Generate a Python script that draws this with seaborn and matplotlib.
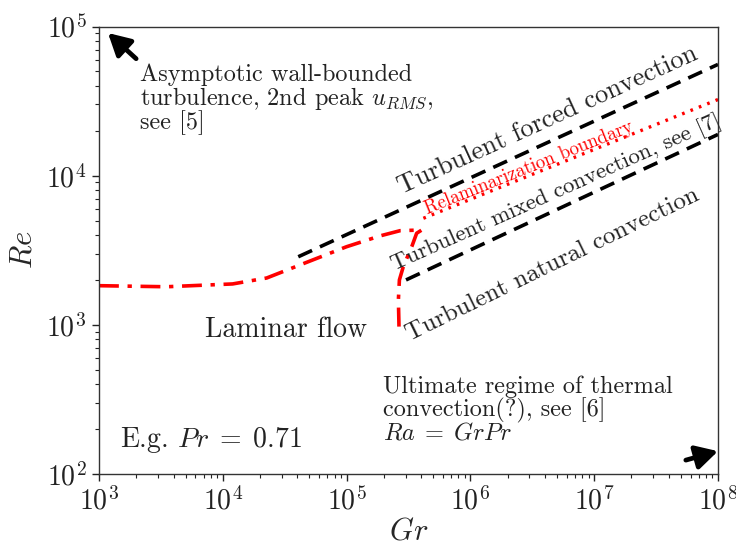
import matplotlib
matplotlib.use("Agg")
import matplotlib.pyplot as plt
import seaborn as sns
import pandas as pd

sns.set_theme(style="ticks")
plt.rcParams['font.family'] = ['cmr10', 'DejaVu Serif']
plt.rcParams['mathtext.fontset'] = 'cm'
plt.rcParams['axes.formatter.use_mathtext'] = True

# ---- data (Gr, Re) ----
forced_gr = [4.07e4, 1.0e8]
forced_re = [2860, 5.57e4]

mixed_gr = [3.02e5, 1.0e8]
mixed_re = [2000, 1.89e4]

relam_gr = [4.17e5, 1.0e8]
relam_re = [5180, 3.24e4]

laminar_gr = [1e3, 3.5e3, 1.2e4, 2.26e4, 4.2e4, 1.0e5, 1.86e5, 2.70e5,
              4.05e5, 3.68e5, 3.36e5, 2.87e5, 2.67e5, 2.62e5, 2.65e5]
laminar_re = [1830, 1800, 1880, 2060, 2520, 3340, 3945, 4276,
              4325, 4111, 3342, 2455, 2000, 1469, 973]

xlim = (1e3, 1e8)
ylim = (1e2, 1e5)

fig = plt.figure(figsize=(7.36, 5.55), dpi=100)
ax = fig.add_axes([99/736, 1-474/555, 619/736, 447.5/555])

lam = pd.DataFrame({"Gr": laminar_gr, "Re": laminar_re})
sns.lineplot(data=lam, x="Gr", y="Re", ax=ax, sort=False, estimator=None,
             color="#ff0000", lw=2.6)
ax.lines[-1].set_linestyle((0, (5.5, 2.4, 1.2, 2.4)))

for gx, gy in [(forced_gr, forced_re), (mixed_gr, mixed_re)]:
    d = pd.DataFrame({"Gr": gx, "Re": gy})
    sns.lineplot(data=d, x="Gr", y="Re", ax=ax, sort=False, estimator=None,
                 color="black", lw=2.6)
    ax.lines[-1].set_linestyle((0, (4.2, 2.4)))

d = pd.DataFrame({"Gr": relam_gr, "Re": relam_re})
sns.lineplot(data=d, x="Gr", y="Re", ax=ax, sort=False, estimator=None,
             color="#ff0000", lw=2.4)
ax.lines[-1].set_linestyle((0, (0.8, 1.9)))

ax.set_xscale("log")
ax.set_yscale("log")
ax.set_xlim(*xlim)
ax.set_ylim(*ylim)
ax.set_xlabel("$Gr$", fontsize=22, labelpad=2)
ax.set_ylabel("$Re$", fontsize=22, labelpad=6)
ax.tick_params(axis="both", which="major", labelsize=20, length=5, width=1,
               direction="out", colors="#222222")
ax.tick_params(axis="both", which="minor", length=3, width=0.8, direction="out",
               colors="#222222")
ax.tick_params(axis="both", labelcolor="#222222", pad=4)
for s in ax.spines.values():
    s.set_visible(True)
    s.set_color("#333333")
    s.set_linewidth(1.0)

tc = "#222222"
ax.text(140/736, 1-63/555, "Asymptotic wall-bounded\nturbulence, 2nd peak $u_{RMS}$,\nsee [5]",
        transform=fig.transFigure, fontsize=17.5, va="top", ha="left",
        color=tc, linespacing=0.95)
ax.text(205/736, 1-330/555, "Laminar flow", transform=fig.transFigure,
        fontsize=20, va="center", ha="left", color=tc)
ax.text(383/736, 1-376/555, "Ultimate regime of thermal\nconvection(?), see [6]\n$Ra\\;=\\;GrPr$",
        transform=fig.transFigure, fontsize=17.5, va="top", ha="left",
        color=tc, linespacing=0.95)
ax.text(120/736, 1-440/555, "E.g. $Pr\\;=\\;0.71$", transform=fig.transFigure,
        fontsize=20, va="center", ha="left", color=tc)

ax.text(548/736, 1-120/555, "Turbulent forced convection", transform=fig.transFigure,
        fontsize=19, rotation=24.5, rotation_mode="anchor", ha="center",
        va="center", color=tc)
ax.text(529/736, 1-168/555, "Relaminarization boundary", transform=fig.transFigure,
        fontsize=13.5, rotation=22, rotation_mode="anchor", ha="center",
        va="center", color="#ff0000")
ax.text(556/736, 1-193/555, "Turbulent mixed convection, see [7]",
        transform=fig.transFigure, fontsize=16.5, rotation=24, rotation_mode="anchor",
        ha="center", va="center", color=tc)
ax.text(553/736, 1-265/555, "Turbulent natural convection", transform=fig.transFigure,
        fontsize=18, rotation=26, rotation_mode="anchor", ha="center",
        va="center", color=tc)

arrow = dict(arrowstyle="-|>,head_length=1.1,head_width=0.6", color="black",
             lw=3.4, shrinkA=0, shrinkB=0)
ax.annotate("", xy=(0.0145, 0.9855), xytext=(0.060, 0.928),
            xycoords="axes fraction", textcoords="axes fraction",
            arrowprops=arrow, annotation_clip=False)
ax.annotate("", xy=(1.0, 0.051), xytext=(0.948, 0.031),
            xycoords="axes fraction", textcoords="axes fraction",
            arrowprops=arrow, annotation_clip=False)

fig.savefig("out.png", dpi=100)
